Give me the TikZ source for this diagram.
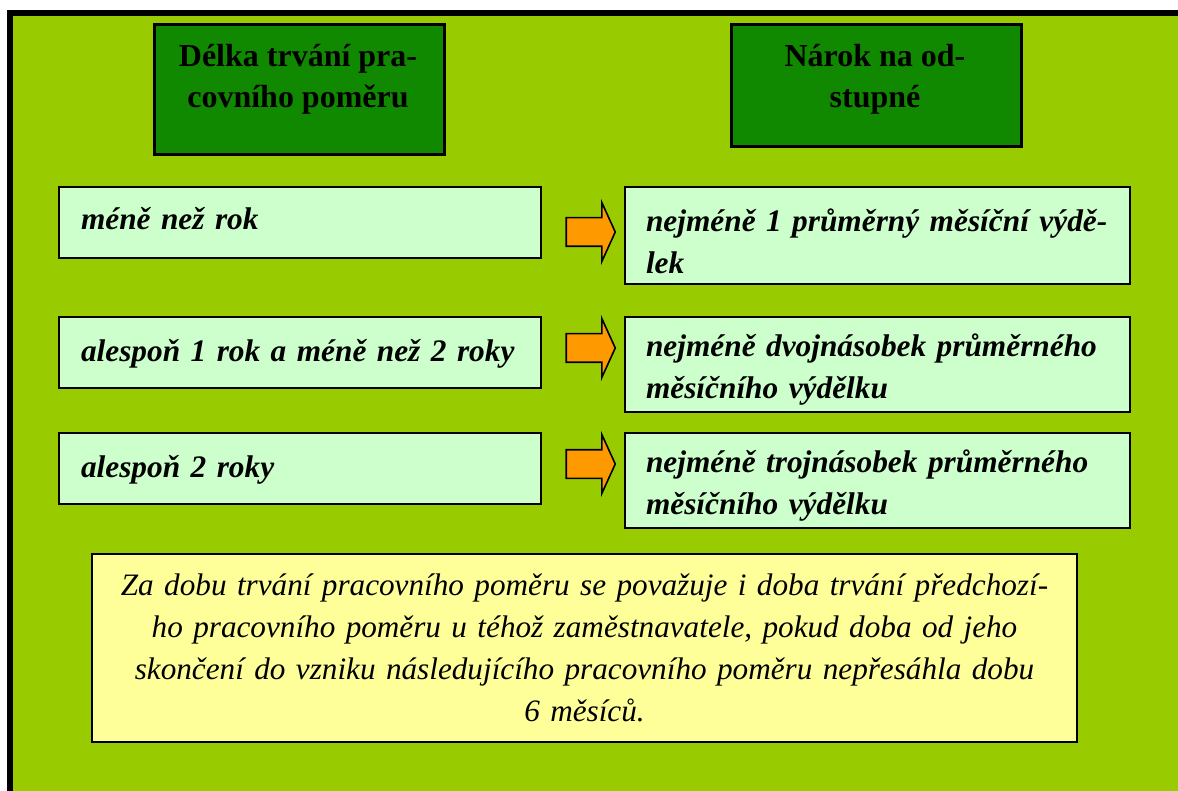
\documentclass[tikz,border=0pt]{standalone}
\usepackage{fontspec}
\setmainfont{Liberation Serif}
\usetikzlibrary{positioning}
\usetikzlibrary{shapes.arrows}

\definecolor{bggreen}{RGB}{153,204,0}
\definecolor{headgreen}{RGB}{16,136,0}
\definecolor{rowgreen}{RGB}{204,255,204}
\definecolor{noteyellow}{RGB}{255,255,153}
\definecolor{arroworange}{RGB}{255,153,0}

\tikzset{
headbox/.style={draw=black,line width=2pt,fill=headgreen,anchor=north west,minimum width=217.5pt,inner sep=0pt},
headtext/.style={anchor=north,align=center,inner sep=0pt,font=\fontsize{24}{30.75}\selectfont\bfseries},
lenbox/.style={draw=black,line width=1.5pt,fill=rowgreen,anchor=north west,text width=328.5pt,inner xsep=16.5pt,inner ysep=0pt,minimum height=53.5pt,align=left,font=\fontsize{23.5}{31.5}\selectfont\bfseries\itshape},
paybox/.style={lenbox,text width=362.75pt,inner xsep=8pt,text height=25pt,execute at begin node={\leftskip=7.75pt\relax}},
arrowbox/.style={single arrow,draw=black,line width=1.2pt,fill=arroworange,inner xsep=0pt,inner ysep=10.125pt,minimum height=36.75pt,minimum width=42.75pt,single arrow head extend=11.25pt,single arrow tip angle=131},
notebox/.style={draw=black,line width=1.5pt,fill=noteyellow,anchor=north west,text width=718.75pt,inner xsep=10pt,inner ysep=0pt,minimum height=141pt,align=center,font=\fontsize{23.4}{31.5}\selectfont\itshape}
}

\begin{document}
\begin{tikzpicture}[x=0.75pt,y=-0.75pt]
\useasboundingbox (0,0) rectangle (1178,791);
\fill[white] (0,0) rectangle (1178,791);
\fill[black] (7,10) rectangle (1178,791);
\fill[bggreen] (13,16) rectangle (1178,791);

% headings
\node[headbox,minimum height=97.5pt](hlen) at (153,23){};
\node[headbox,minimum height=91.5pt](hnar) at (730,23){};
\node[headtext](hlentxt) at (298,44){Délka trvání pra-\\covního poměru};
\node[headtext](hnartxt) at (875,44){Nárok na od-\\stupné};

% rows
\node[lenbox,text depth=6pt](lenA) at (58,186){méně než rok};
\node[lenbox,text depth=3pt](lenB) at (58,316){alespoň 1 rok a méně než 2 roky};
\node[lenbox,text depth=3pt](lenC) at (58,432){alespoň 2 roky};

\node[paybox,minimum height=72.75pt](payA) at (624,186){nejméně 1 průměrný měsíční výdě-\\lek};
\node[paybox,minimum height=71.25pt](payB) at (624,316){nejméně dvojnásobek průměrného\\měsíčního výdělku};
\node[paybox,minimum height=71.25pt](payC) at (624,432){nejméně trojnásobek průměrného\\měsíčního výdělku};

\node[arrowbox](arrA) at (587.5,232){};
\node[arrowbox](arrB) at (587.5,348){};
\node[arrowbox](arrC) at (587.5,464){};

% note
\node[notebox](note) at (91,553){Za dobu trvání pracovního poměru se považuje i doba trvání předchozí-\\ho pracovního poměru u téhož zaměstnavatele, pokud doba od jeho\\skončení do vzniku následujícího pracovního poměru nepřesáhla dobu\\6 měsíců.};
\end{tikzpicture}
\end{document}
